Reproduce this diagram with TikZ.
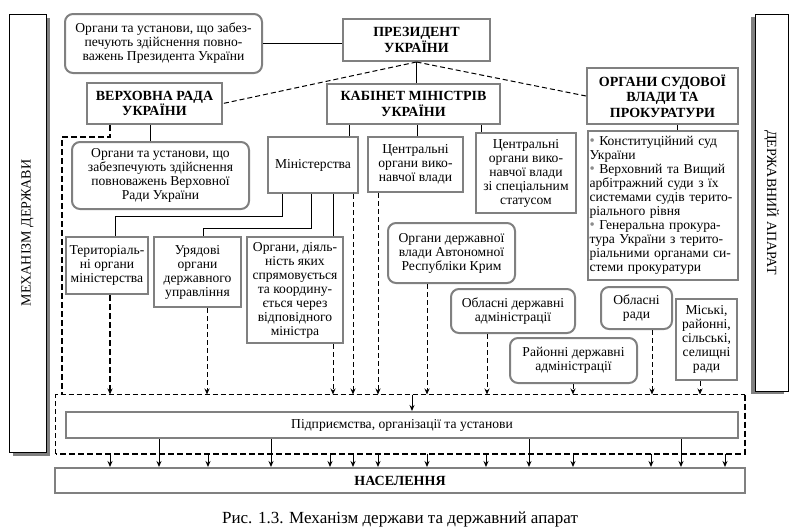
\documentclass[tikz,border=0pt]{standalone}
\usepackage{fontspec}
\setmainfont{Liberation Serif}
\usetikzlibrary{arrows.meta,shadows,calc}
\definecolor{boxgray}{RGB}{128,128,128}
\definecolor{bulgray}{RGB}{140,140,140}
\newcommand\fsn{\fontsize{13.6}{14}\selectfont}
\newcommand\fsb{\fontsize{14}{15.5}\selectfont\bfseries}
\newcommand\mybul{{\color{bulgray}\raisebox{0.3pt}{\scalebox{1.1}{•}}}\ }
\begin{document}
\begin{tikzpicture}[x=1pt,y=-1pt,line width=1pt,
  bx/.style={draw=boxgray,line width=2pt,inner sep=1pt,align=center,font=\fsn},
  rbx/.style={bx,rounded corners=8pt},
  tbx/.style={bx,font=\fsb},
  vbx/.style={draw=black,line width=1pt,fill=white,inner sep=0pt},
  dsh/.style={dash pattern=on 5pt off 3pt,line width=1pt},
  dshthick/.style={dash pattern=on 6pt off 3pt,line width=2pt},
  arr/.style={-{Stealth[length=6pt,width=5pt]}}]
\useasboundingbox (0,0) rectangle (795,528);
\foreach \c in {62,110,115,150,159,203,207,208,271,282,311,330,333,349,353,378,412,417,427,481,486,487,529,573,651,652,677,681,700,725}
  \coordinate (c\c) at (\c,0);
% side boxes
\node[vbx,minimum width=37pt,minimum height=438pt,
  drop shadow={shadow xshift=4pt,shadow yshift=-4pt,fill=boxgray,opacity=1}] (mech) at (27.5,233) {};
\node[rotate=90,font=\fontsize{14}{16}\selectfont] (mechlabel) at (mech.center) {МЕХАНІЗМ ДЕРЖАВИ};
\node[vbx,minimum width=33pt,minimum height=377pt,
  drop shadow={shadow xshift=-4pt,shadow yshift=-3pt,fill=boxgray,opacity=1}] (apar) at (771.5,202.5) {};
\node[rotate=-90,font=\fontsize{14}{16}\selectfont] (aparlabel) at (apar.center) {ДЕРЖАВНИЙ АПАРАТ};
% top level
\node[tbx,minimum width=147pt,minimum height=42pt] (pres) at (416.5,40) {ПРЕЗИДЕНТ\\УКРАЇНИ};
\node[rbx,minimum width=197pt,minimum height=59pt] (presorg) at (163.5,43.5) {Органи та установи, що забез-\\печують здійснення повно-\\важень Президента України};
\node[tbx,minimum width=135pt,minimum height=41pt] (vr) at (154.5,103.5) {ВЕРХОВНА РАДА\\УКРАЇНИ};
\node[tbx,minimum width=173pt,minimum height=40pt] (kab) at (413.5,104) {КАБІНЕТ МІНІСТРІВ\\УКРАЇНИ};
\node[tbx,minimum width=151pt,minimum height=56pt] (court) at (662.5,96) {ОРГАНИ СУДОВОЇ\\ВЛАДИ ТА\\ПРОКУРАТУРИ};
% second level
\node[rbx,minimum width=177pt,minimum height=67pt] (vrorg) at (160.5,175.5) {Органи та установи, що\\забезпечують здійснення\\повноважень Верховної\\Ради України};
\node[bx,minimum width=90pt,minimum height=56pt] (min) at (313,165) {Міністерства};
\node[bx,minimum width=95pt,minimum height=55pt] (cov) at (415.5,164.5) {Центральні\\органи вико-\\навчої влади};
\node[bx,minimum width=100pt,minimum height=80pt] (covs) at (526,173) {Центральні\\органи вико-\\навчої влади\\зі спеціальним\\статусом};
\node[bx,align=left,text width=147pt,inner sep=1.5pt,minimum height=149pt] (courtlist) at (663,205.5) {\mybul Конституційний суд\\України\\\mybul Верховний та Вищий\\арбітражний суди з їх\\системами судів терито-\\ріального рівня\\\mybul Генеральна прокура-\\тура України з терито-\\ріальними органами си-\\стеми прокуратури};
% third level
\node[bx,minimum width=82pt,minimum height=57pt] (terr) at (107,265.5) {Територіаль-\\ні органи\\міністерства};
\node[bx,minimum width=87pt,minimum height=70pt] (ur) at (197.5,272) {Урядові\\органи\\державного\\управління};
\node[bx,minimum width=96pt,minimum height=106pt] (org) at (295,290) {Органи, діяль-\\ність яких\\спрямовується\\та координу-\\ється через\\відповідного\\міністра};
\node[rbx,minimum width=127pt,minimum height=60pt] (ark) at (451.5,253) {Органи державної\\влади Автономної\\Республіки Крим};
\node[rbx,minimum width=124pt,minimum height=44pt] (oda) at (513,311) {Обласні державні\\адміністрації};
\node[rbx,minimum width=127pt,minimum height=45pt] (rda) at (573.5,360.5) {Районні державні\\адміністрації};
\node[rbx,minimum width=71pt,minimum height=42pt] (orady) at (636.5,308) {Обласні\\ради};
\node[bx,minimum width=61pt,minimum height=81pt] (misk) at (706.5,339.5) {Міські,\\районні,\\сільські,\\селищні\\ради};
% bottom
\node[minimum width=688pt,minimum height=58pt,inner sep=0pt] (frame) at (400,424) {};
\draw[dsh] (frame.south west) -- (frame.north west) -- (frame.north east);
\draw[dshthick] (frame.north east) -- (frame.south east) -- (frame.south west);
\node[bx,minimum width=672pt,minimum height=26pt] (pidpr) at (402,425) {Підприємства, організації та установи};
\node[tbx,minimum width=690pt,minimum height=25pt] (nas) at (400,480.5) {НАСЕЛЕННЯ};
\node[font=\fontsize{17}{19}\selectfont] (cap) at (400,519) {Рис. 1.3. Механізм держави та державний апарат};
% connectors
\draw (presorg.east) -- (presorg.east -| pres.west);
\draw (pres.south) -- (pres.south |- kab.north);
\draw[dsh] (pres.south) -- (vr.east);
\draw[dsh] (pres.south) -- (court.west);
\draw (vr.south -| c150) -- (vrorg.north -| c150);
\draw[dshthick] (vr.south -| c110) -- ++(0,12) -| (frame.north -| c62);
\draw (kab.south -| c349) -- (min.north -| c349);
\draw (kab.south -| c417) -- (cov.north -| c417);
\draw (kab.south -| c481) -- (covs.north -| c481);
\draw (court.south -| c677) -- (courtlist.north -| c677);
\draw (min.south -| c282) -- ++(0,22) -| (terr.north -| c115);
\draw (min.south -| c311) -- ++(0,34) -| (ur.north -| c203);
\draw (min.south -| c333) -- (org.north -| c333);
\draw[dsh,arr] (min.south -| c353) -- (frame.north -| c353);
\draw[dshthick,arr] (terr.south -| c110) -- (frame.north -| c110);
\draw[dsh,arr] (ur.south -| c207) -- (frame.north -| c207);
\draw[dsh,arr] (org.south -| c333) -- (frame.north -| c333);
\draw[dsh,arr] (cov.south -| c378) -- (frame.north -| c378);
\draw[dsh,arr] (ark.south -| c427) -- (frame.north -| c427);
\draw[dsh,arr] (oda.south -| c487) -- (frame.north -| c487);
\draw[dsh,arr] (rda.south -| c573) -- (frame.north -| c573);
\draw[dsh,arr] (orady.south -| c652) -- (frame.north -| c652);
\draw[dsh,arr] (misk.south -| c700) -- (frame.north -| c700);
\draw[arr] (frame.north -| c412) -- (pidpr.north -| c412);
\foreach \c in {110,208,330,353,378,427,486,573,651,725}
  \draw[arr] (frame.south -| c\c) -- (nas.north -| c\c);
\foreach \c in {159,271,529,681}
  \draw[arr] (pidpr.south -| c\c) -- (nas.north -| c\c);
\end{tikzpicture}
\end{document}
